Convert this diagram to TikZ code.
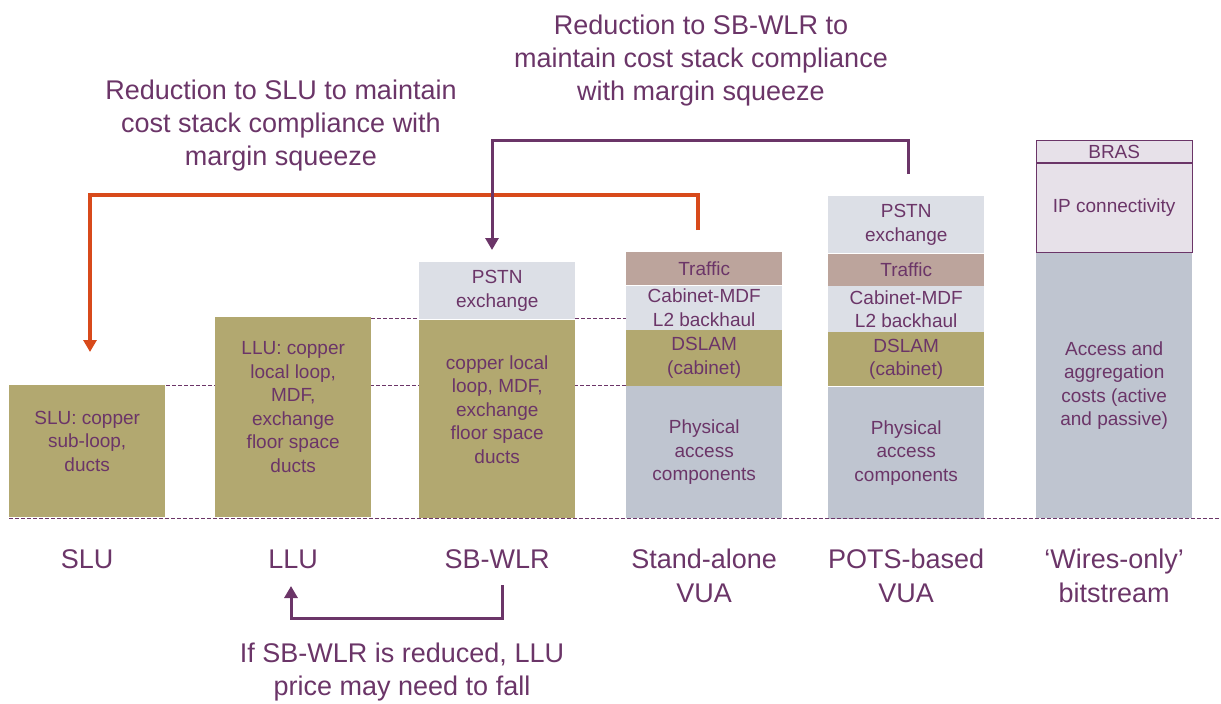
\documentclass[tikz,border=0pt]{standalone}
\usepackage{fontspec}
\setmainfont{Liberation Sans}
\usetikzlibrary{positioning, arrows.meta}

\definecolor{plum}{HTML}{6B3568}
\definecolor{rust}{HTML}{D84A1B}
\definecolor{cuolive}{HTML}{B2A870}
\definecolor{pstngray}{HTML}{DCDFE6}
\definecolor{trafficrose}{HTML}{BCA49C}
\definecolor{physgray}{HTML}{BFC5D0}
\definecolor{ippink}{HTML}{E7E1E9}

\begin{document}
\begin{tikzpicture}[
	x=1pt, y=-1pt,
	layer/.style={rectangle, inner sep=0pt, anchor=north west, minimum width=156pt, align=center, text=plum, font=\fontsize{19}{23.5}\selectfont},
	copper/.style={layer, fill=cuolive},
	pstn/.style={layer, fill=pstngray},
	traffic/.style={layer, fill=trafficrose},
	phys/.style={layer, fill=physgray},
	ipbox/.style={layer, fill=ippink, draw=plum, line width=1pt},
	stacktext/.style={inner sep=0pt, align=center, text=plum, font=\fontsize{19}{23.5}\selectfont},
	biglabel/.style={inner sep=0pt, anchor=north, align=center, text=plum, font=\fontsize{27}{34}\selectfont},
	note/.style={inner sep=0pt, anchor=north, align=center, text=plum, font=\fontsize{27}{33}\selectfont},
	guide/.style={plum, line width=0.8pt, dash pattern=on 4pt off 2pt},
	rustarrow/.style={rust, line width=3.5pt, -{Triangle[length=12pt,width=13pt]}},
	plumarrow/.style={plum, line width=3pt, -{Triangle[length=12pt,width=13pt]}}
]
\useasboundingbox (0,0) rectangle (1221,704);

% level guides behind the stacks
\coordinate (guide_low) at (166,385);
\coordinate (guide_high) at (371,318);
\draw[guide] (guide_low) -- (626,385);
\draw[guide] (guide_high) -- (626,318);

% SLU
\node[copper, minimum height=132pt] (slu) at (9,385) {};
\node[stacktext] (slu_text) at ([yshift=10pt]slu.center) {SLU: copper\\sub-loop,\\ducts};

% LLU
\node[copper, minimum height=200pt] (llu) at (215,317) {};
\node[stacktext] (llu_text) at ([yshift=10pt]llu.center) {LLU: copper\\local loop,\\MDF,\\exchange\\floor space\\ducts};

% SB-WLR
\node[pstn, minimum height=57pt] (sbwlr_pstn) at (419,262) {PSTN\\exchange};
\node[copper, minimum height=198pt, below=0pt of sbwlr_pstn] (sbwlr) {};
\node[stacktext] (sbwlr_text) at ([yshift=9pt]sbwlr.center) {copper local\\loop, MDF,\\exchange\\floor space\\ducts};

% Stand-alone VUA
\node[traffic, minimum height=33pt] (vua_traffic) at (626,252) {Traffic};
\node[pstn, minimum height=44pt, below=0pt of vua_traffic] (vua_backhaul) {Cabinet-MDF\\L2 backhaul};
\node[copper, minimum height=56pt, below=0pt of vua_backhaul] (vua_dslam) {DSLAM\\(cabinet)};
\node[phys, minimum height=132pt, below=0pt of vua_dslam] (vua_phys) {Physical\\access\\components};

% POTS-based VUA
\node[pstn, minimum height=57pt] (pots_pstn) at (828,196) {PSTN\\exchange};
\node[traffic, minimum height=32pt, below=0pt of pots_pstn] (pots_traffic) {Traffic};
\node[pstn, minimum height=46pt, below=0pt of pots_traffic] (pots_backhaul) {Cabinet-MDF\\L2 backhaul};
\node[copper, minimum height=54pt, below=0pt of pots_backhaul] (pots_dslam) {DSLAM\\(cabinet)};
\node[phys, minimum height=132pt, below=0pt of pots_dslam] (pots_phys) {Physical\\access\\components};

% Wires-only bitstream
\node[phys, minimum height=265pt] (wires_access) at (1036,253) {Access and\\aggregation\\costs (active\\and passive)};
\node[ipbox, minimum height=89pt, above=0pt of wires_access] (wires_ip) {IP connectivity};
\node[ipbox, minimum height=22pt, above=0pt of wires_ip] (wires_bras) {BRAS};

% base line
\draw[guide] ([yshift=-1pt]slu.south west) -- ++(1212,0);

% product names
\node[biglabel, below=32pt of slu] (lbl_slu) {SLU};
\node[biglabel, below=32pt of llu] (lbl_llu) {LLU};
\node[biglabel, below=32pt of sbwlr] (lbl_sbwlr) {SB-WLR};
\node[biglabel, below=30pt of vua_phys] (lbl_vua) {Stand-alone\\VUA};
\node[biglabel, below=30pt of pots_phys] (lbl_pots) {POTS-based\\VUA};
\node[biglabel, below=30pt of wires_access] (lbl_wires) {‘Wires-only’\\bitstream};

% explanations
\node[note] (note_slu) at (281,80) {Reduction to SLU to maintain\\cost stack compliance with\\margin squeeze};
\node[note] (note_sbwlr) at (701,15) {Reduction to SB-WLR to\\maintain cost stack compliance\\with margin squeeze};
\node[note] (note_llu) at (402,643) {If SB-WLR is reduced, LLU\\price may need to fall};

% knock-on arrows
\coordinate (vua_top) at (698,230);
\coordinate (slu_top) at (90,352);
\coordinate (pots_top) at (908,174);
\coordinate (sbwlr_top) at (492,250);
\coordinate (sbwlr_under) at (502,585);
\coordinate (llu_under) at (291,586);
\draw[rustarrow] (vua_top) -- (698,195) -| (slu_top);
\draw[plumarrow] (pots_top) -- (908,140) -| (sbwlr_top);
\draw[plumarrow] (sbwlr_under) -- (502,618) -| (llu_under);
\end{tikzpicture}
\end{document}
